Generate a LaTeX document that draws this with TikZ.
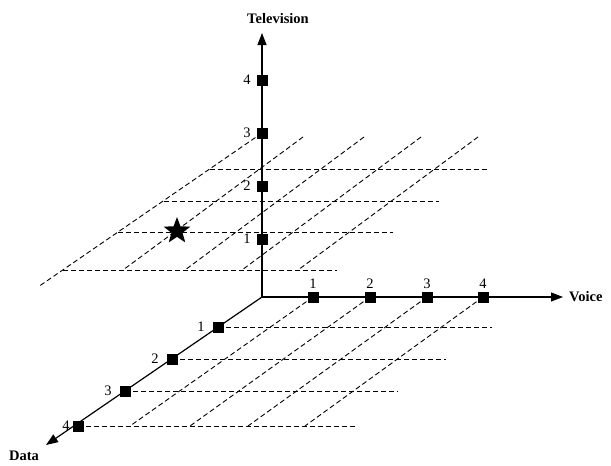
\documentclass[tikz,border=0pt]{standalone}
\usepackage{fontspec}
\setmainfont{Liberation Serif}
\usetikzlibrary{arrows.meta,positioning,shapes.geometric}

\begin{document}
\begin{tikzpicture}[
  x=1pt, y=-1pt,
  font=\fontsize{14.5}{16}\selectfont,
  tick/.style={draw, fill=black, minimum size=10pt, inner sep=0pt},
  num/.style={inner sep=0pt},
  axlabel/.style={font=\fontsize{14.5}{16}\selectfont\bfseries, inner sep=0pt},
  axis/.style={-{Triangle[length=12pt,width=9pt]}, line width=1.2pt},
  grid/.style={dash pattern=on 5pt off 3pt, line width=0.9pt}
]
\useasboundingbox (0,0) rectangle (611,466);

% axis ends
\coordinate (O) at (262,297);
\coordinate (tvtip) at (262,33);
\coordinate (vtip) at (563,297);
\coordinate (dtip) at (46,445);

% marks on the axes
\coordinate (v1) at (313,297);
\coordinate (v2) at (370,297);
\coordinate (v3) at (427,297);
\coordinate (v4) at (483,297);
\coordinate (t1) at (262,239);
\coordinate (t2) at (262,186);
\coordinate (t3) at (262,133);
\coordinate (t4) at (262,80);
\coordinate (d1) at (218,327);
\coordinate (d2) at (172,359);
\coordinate (d3) at (125,391);
\coordinate (d4) at (78,426);

% lower plane
\coordinate (e1) at (492,327);
\coordinate (e2) at (446,359);
\coordinate (e3) at (398,391);
\coordinate (e4) at (355,426);
\coordinate (f1) at (130,426);
\coordinate (f2) at (190,426);
\coordinate (f3) at (248,426);
\coordinate (f4) at (305,426);
\draw[grid] (d1) -- (e1);
\draw[grid] (d2) -- (e2);
\draw[grid] (d3) -- (e3);
\draw[grid] (d4) -- (e4);
\draw[grid] (v1) -- (f1);
\draw[grid] (v2) -- (f2);
\draw[grid] (v3) -- (f3);
\draw[grid] (v4) -- (f4);

% upper plane
\coordinate (low) at (38,287);
\coordinate (a1) at (210,169);
\coordinate (a2) at (164,201);
\coordinate (a3) at (118,232);
\coordinate (a4) at (63,270);
\coordinate (b1) at (487,169);
\coordinate (b2) at (439,201);
\coordinate (b3) at (393,232);
\coordinate (b4) at (337,270);
\coordinate (p1) at (303,137);
\coordinate (p2) at (364,137);
\coordinate (p3) at (421,137);
\coordinate (p4) at (478,137);
\coordinate (q1) at (123,270);
\coordinate (q2) at (185,270);
\coordinate (q3) at (242,270);
\coordinate (q4) at (298,270);
\draw[grid] (t3) -- (low);
\draw[grid] (a1) -- (b1);
\draw[grid] (a2) -- (b2);
\draw[grid] (a3) -- (b3);
\draw[grid] (a4) -- (b4);
\draw[grid] (p1) -- (q1);
\draw[grid] (p2) -- (q2);
\draw[grid] (p3) -- (q3);
\draw[grid] (p4) -- (q4);

% axes
\draw[axis] (O) -- (tvtip);
\draw[axis] (O) -- (vtip);
\draw[axis] (O) -- (dtip);
\node[axlabel] (tv) at (278,19) {Television};
\node[axlabel, right=6pt of vtip] (voice) {Voice};
\node[axlabel] (data) at (24,456) {Data};

% ticks
\node[tick] (mv1) at (v1) {};
\node[tick] (mv2) at (v2) {};
\node[tick] (mv3) at (v3) {};
\node[tick] (mv4) at (v4) {};
\node[tick] (mt1) at (t1) {};
\node[tick] (mt2) at (t2) {};
\node[tick] (mt3) at (t3) {};
\node[tick] (mt4) at (t4) {};
\node[tick] (md1) at (d1) {};
\node[tick] (md2) at (d2) {};
\node[tick] (md3) at (d3) {};
\node[tick] (md4) at (d4) {};
\node[num, above=3pt of mv1] {1};
\node[num, above=3pt of mv2] {2};
\node[num, above=3pt of mv3] {3};
\node[num, above=3pt of mv4] {4};
\node[num, left=6pt of mt1] {1};
\node[num, left=6pt of mt2] {2};
\node[num, left=6pt of mt3] {3};
\node[num, left=6pt of mt4] {4};
\node[num, left=8pt of md1] {1};
\node[num, left=8pt of md2] {2};
\node[num, left=8pt of md3] {3};
\node[num, left=3pt of md4] {4};

% chosen point
\node[star, star points=5, star point ratio=2.4, fill=black, minimum size=28pt, inner sep=0pt] (pick) at (177,231) {};
\end{tikzpicture}
\end{document}
